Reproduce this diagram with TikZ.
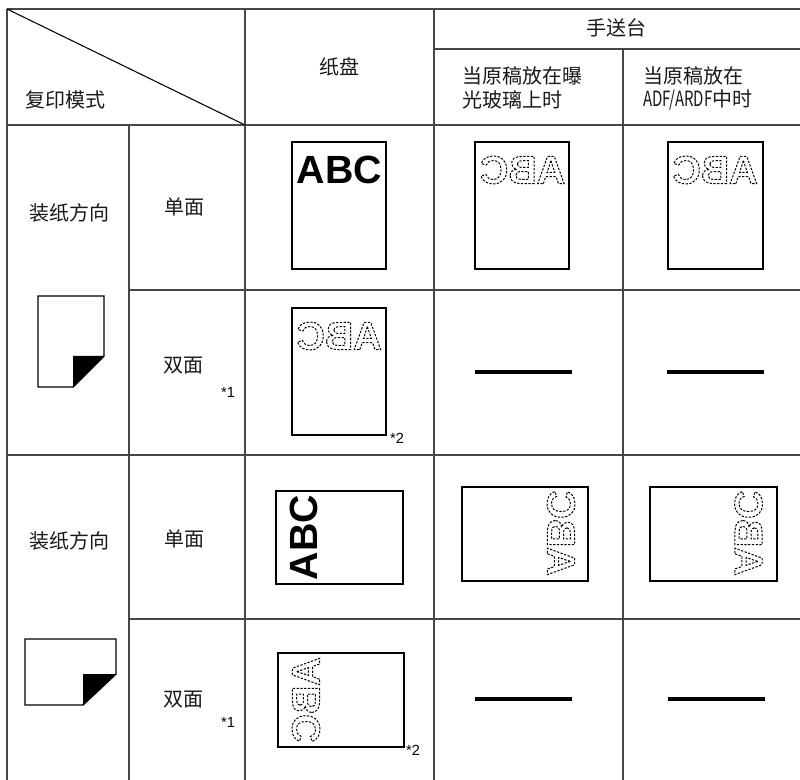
\documentclass[tikz,border=0pt]{standalone}
\usepackage{fontspec}
\usepackage{graphicx}
\setmainfont{Noto Sans CJK SC}
\newfontfamily\arialf{Liberation Sans}
\newcommand\outlinetext[1]{\special{pdf:literal direct 1 Tr 0.75 w [1.7 1.1] 0 d}#1\special{pdf:literal direct 0 Tr [] 0 d}}
\tikzset{
  tabline/.style={line width=0.9pt, draw=black!72},
  paper/.style={draw=black, line width=1.1pt},
  icon/.style={draw=black, line width=1.1pt},
  nilbar/.style={draw=black, line width=3pt},
  lbl/.style={font=\fontsize{15}{18}\selectfont, inner sep=0pt, text=black!90},
  note/.style={font=\arialf\fontsize{11}{11}\selectfont, inner sep=0pt},
  abc/.style={font=\arialf\bfseries\fontsize{29.5}{30}\selectfont, inner sep=0pt},
}
\begin{document}
\begin{tikzpicture}[x=0.75pt, y=-0.75pt]
\useasboundingbox (0,0) rectangle (800,780);
\fill[white] (0,0) rectangle (800,780);
% table lines
\draw[tabline] (7,9) -- (800,9);
\draw[tabline] (7,9) -- (7,780);
\draw[tabline] (129,125) -- (129,780);
\draw[tabline] (245,9) -- (245,780);
\draw[tabline] (434,9) -- (434,780);
\draw[tabline] (623,49) -- (623,780);
\draw[tabline] (434,49) -- (800,49);
\draw[tabline] (7,125) -- (800,125);
\draw[tabline] (129,290) -- (800,290);
\draw[tabline] (7,455) -- (800,455);
\draw[tabline] (129,619) -- (800,619);
\draw[line width=0.8pt] (7,9) -- (245,125);
% header texts
\node[lbl] (h1) at (616,28) {手送台};
\node[lbl] (h2) at (339,67) {纸盘};
\node[lbl, anchor=west] (h3) at (25,100) {复印模式};
\node[lbl, anchor=west] (h4a) at (462,76) {当原稿放在曝};
\node[lbl, anchor=west] (h4b) at (462,100) {光玻璃上时};
\node[lbl, anchor=west] (h5a) at (643,76) {当原稿放在};
\node[lbl, anchor=west] (h5b) at (643,100) {\scalebox{0.75}[1.05]{ADF/ARDF}中时};
% row labels
\node[lbl] (r1a) at (69,213) {装纸方向};
\node[lbl] (r1b) at (184,207) {单面};
\node[lbl] (r2b) at (183,366) {双面};
\node[lbl] (r3a) at (69,541) {装纸方向};
\node[lbl] (r3b) at (184,539) {单面};
\node[lbl] (r4b) at (183,700) {双面};
\node[note] (n1) at (228,392) {*1};
\node[note] (n2) at (228,722) {*1};
\node[note] (n3) at (397,438) {*2};
\node[note] (n4) at (413,750) {*2};
% orientation icons
\draw[icon] (38,296) -- (104,296) -- (104,356) -- (73,387) -- (38,387) -- cycle;
\fill (73,356) -- (104,356) -- (73,387) -- cycle;
\draw[icon] (25,639) -- (116,639) -- (116,674) -- (83,705) -- (25,705) -- cycle;
\fill (83,674) -- (116,674) -- (83,705) -- cycle;
% papers
\draw[paper] (292,142) rectangle (386,269);
\draw[paper] (475,142) rectangle (569,269);
\draw[paper] (668,142) rectangle (763,269);
\draw[paper] (292,308) rectangle (386,435);
\draw[paper] (276,491) rectangle (403,584);
\draw[paper] (462,487) rectangle (588,581);
\draw[paper] (650,487) rectangle (777,581);
\draw[paper] (278,653) rectangle (404,747);
% no-copy bars
\draw[nilbar] (475,372) -- (572,372);
\draw[nilbar] (667,372) -- (764,372);
\draw[nilbar] (475,699) -- (572,699);
\draw[nilbar] (668,699) -- (765,699);
% ABC texts
\node[abc] (a1) at (339.5,169.5) {ABC};
\node[abc] (a2) at (522.5,170) {\reflectbox{\outlinetext{ABC}}};
\node[abc] (a3) at (715,170) {\reflectbox{\outlinetext{ABC}}};
\node[abc] (a4) at (339,336) {\reflectbox{\outlinetext{ABC}}};
\node[abc, rotate=90] (a5) at (303.5,537.5) {ABC};
\node[abc, rotate=90] (a6) at (561,533) {\scalebox{1}[-1]{\outlinetext{ABC}}};
\node[abc, rotate=90] (a7) at (748.5,533) {\scalebox{1}[-1]{\outlinetext{ABC}}};
\node[abc, rotate=90] (a8) at (306,700) {\reflectbox{\outlinetext{ABC}}};
\end{tikzpicture}
\end{document}
